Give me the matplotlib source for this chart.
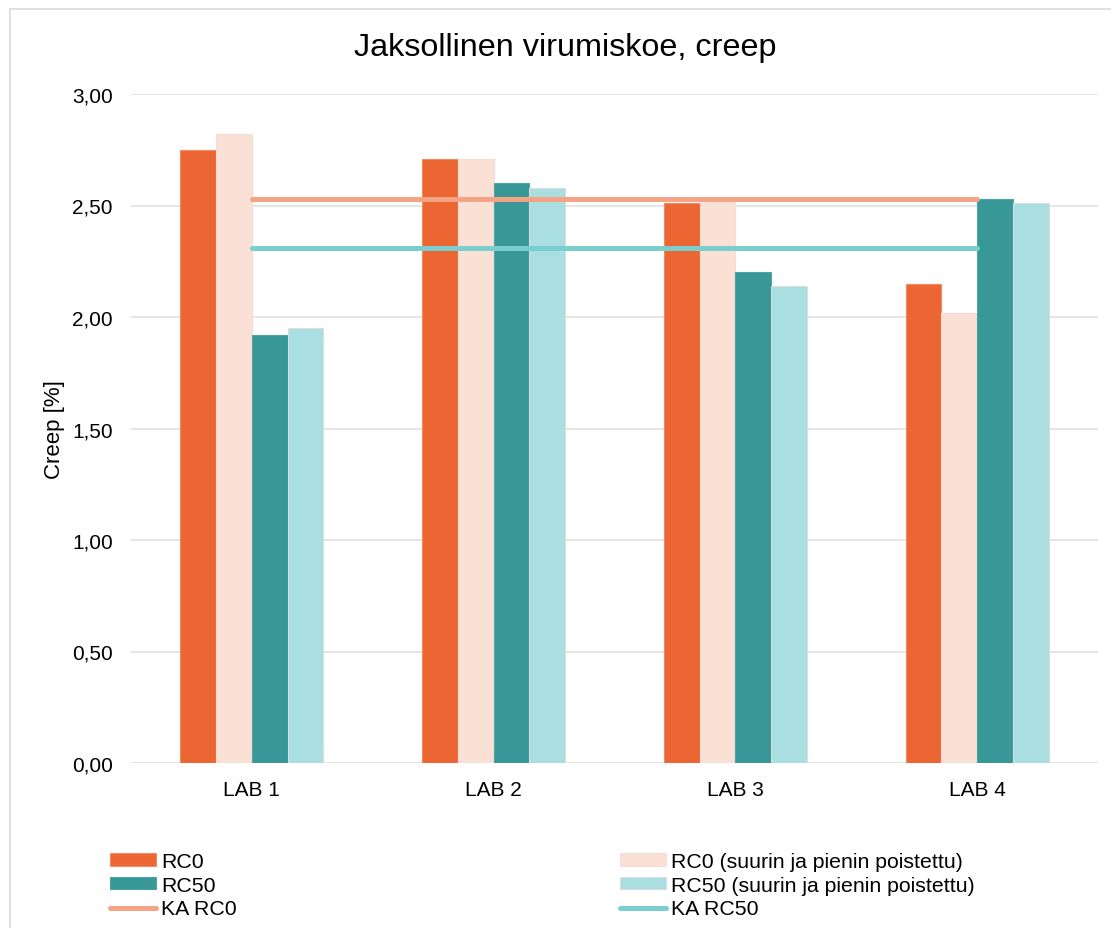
import matplotlib
matplotlib.use("Agg")
import matplotlib.pyplot as plt
import numpy as np
from matplotlib.patches import Rectangle, Patch
from matplotlib.lines import Line2D
from matplotlib.ticker import FuncFormatter

plt.rcParams["font.family"] = ["Liberation Sans", "DejaVu Sans"]

# Creep results per laboratory
labs = ["LAB 1", "LAB 2", "LAB 3", "LAB 4"]
rc0 = [2.75, 2.71, 2.51, 2.15]
rc0_trim = [2.82, 2.71, 2.52, 2.02]
rc50 = [1.92, 2.60, 2.20, 2.53]
rc50_trim = [1.95, 2.58, 2.14, 2.51]
ka_rc0 = 2.53
ka_rc50 = 2.31

series_names = ["RC0", "RC0 (suurin ja pienin poistettu)",
                "RC50", "RC50 (suurin ja pienin poistettu)"]
line_names = ["KA RC0", "KA RC50"]

c_rc0 = "#EB6632"
c_rc0_trim = "#FBE0D5"
c_rc50 = "#389797"
c_rc50_trim = "#A9DFE0"
c_ka_rc0 = "#F4A385"
c_ka_rc50 = "#7ACED0"

W, H = 1111, 929
fig = plt.figure(figsize=(W / 100, H / 100), dpi=100)
fig.patch.set_facecolor("white")

# outer chart frame
fig.add_artist(Rectangle((10 / W, -0.05), 1.2, 1 - 10 / H + 0.05,
                         transform=fig.transFigure, fill=False,
                         edgecolor="#D9D9D9", linewidth=1.2))

ax = fig.add_axes([131 / W, 1 - 764 / H, (1098 - 131) / W, (764 - 95) / H])

x = np.arange(len(labs))
bw = 0.1477
series = [rc0, rc0_trim, rc50, rc50_trim]
colors = [c_rc0, c_rc0_trim, c_rc50, c_rc50_trim]
edges = ["#F08A60", "#F3DDD5", "#4FA3A3", "#DCDCDC"]
for i, (vals, col, ec) in enumerate(zip(series, colors, edges)):
    ax.bar(x + (i - 1.5) * bw, vals, width=bw, color=col,
           edgecolor=ec, linewidth=0.8, zorder=2)

ax.plot([x[0], x[-1]], [ka_rc0, ka_rc0], color=c_ka_rc0, lw=3.6,
        solid_capstyle="round", zorder=3)
ax.plot([x[0], x[-1]], [ka_rc50, ka_rc50], color=c_ka_rc50, lw=3.6,
        solid_capstyle="round", zorder=3)

ax.set_xlim(-0.5, len(labs) - 0.5)
ax.set_ylim(0, 3.0)
ax.set_yticks(np.arange(0, 3.01, 0.5))
ax.yaxis.set_major_formatter(FuncFormatter(lambda v, p: f"{v:.2f}".replace(".", ",")))
ax.set_xticks(x)
ax.set_xticklabels(labs)
ax.grid(axis="y", color="#E3E3E3", linewidth=1.3, zorder=0)
ax.set_axisbelow(True)
for s in ax.spines.values():
    s.set_visible(False)
ax.tick_params(axis="both", length=0, labelsize=15, colors="black")
ax.tick_params(axis="y", pad=13)
ax.tick_params(axis="x", pad=12)

ax.set_ylabel("Creep [%]", fontsize=16)
ax.yaxis.set_label_coords(-(131 - 65) / (1098 - 131), 0.5)

fig.text(565 / W, 1 - 48 / H, "Jaksollinen virumiskoe, creep",
         ha="center", va="center", fontsize=23.3)

def bar_handle(col, ec):
    return Patch(facecolor=col, edgecolor=ec, linewidth=0.8)

def line_handle(col):
    return Line2D([], [], color=col, lw=3.6, solid_capstyle="round")

leg_kw = dict(frameon=False, fontsize=15.3, handlelength=2.15, handleheight=0.5,
              handletextpad=0.25, labelspacing=0.22, borderpad=0, borderaxespad=0,
              loc="upper left")
fig.legend([bar_handle(c_rc0, edges[0]), bar_handle(c_rc50, edges[2]), line_handle(c_ka_rc0)],
           [series_names[0], series_names[2], line_names[0]],
           bbox_to_anchor=(110 / W, 1 - 853 / H), **leg_kw)
fig.legend([bar_handle(c_rc0_trim, edges[1]), bar_handle(c_rc50_trim, edges[3]), line_handle(c_ka_rc50)],
           [series_names[1], series_names[3], line_names[1]],
           bbox_to_anchor=(620 / W, 1 - 853 / H), **leg_kw)

fig.savefig("out.png", dpi=100, facecolor="white")
